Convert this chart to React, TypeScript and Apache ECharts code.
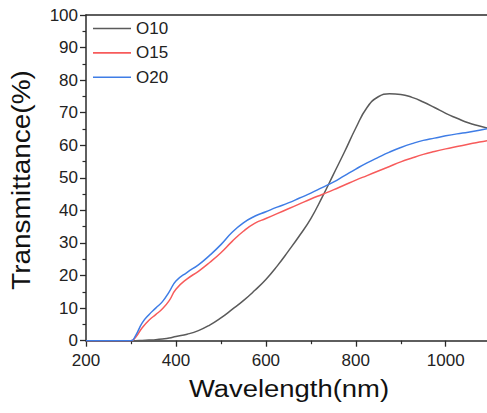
import React, { useEffect, useRef } from "react";
import * as echarts from "echarts";

const wavelength = [200, 250, 300, 310, 325, 340, 355, 370, 385, 400, 425, 450, 475, 500, 525, 550, 575, 600, 625, 650, 675, 700, 725, 750, 775, 800, 825, 850, 875, 900, 925, 950, 975, 1000, 1025, 1050, 1075, 1100];
const o10 = [0, 0, 0, 0, 0.1, 0.2, 0.3, 0.5, 0.8, 1.3, 2.0, 3.1, 4.8, 7.0, 9.6, 12.3, 15.4, 18.8, 22.9, 27.5, 32.3, 37.5, 44, 51, 58, 65.3, 71.6, 74.9, 75.8, 75.6, 74.7, 73.3, 71.6, 69.8, 68.3, 66.9, 65.9, 65.0];
const o15 = [0, 0, 0, 1, 4, 6.3, 8, 9.8, 12.3, 15.8, 19, 21.3, 24, 27, 30.5, 33.6, 36, 37.5, 39.0, 40.5, 42.0, 43.5, 44.9, 46.3, 47.8, 49.3, 50.7, 52.1, 53.5, 54.9, 56.1, 57.2, 58.1, 58.9, 59.6, 60.3, 61.0, 61.6];
const o20 = [0, 0, 0, 1.5, 5.5, 8, 10, 12, 15, 18.3, 21, 23.3, 26.2, 29.5, 33.3, 36.2, 38.2, 39.6, 41.0, 42.3, 43.8, 45.3, 47, 48.7, 50.7, 52.7, 54.6, 56.3, 57.9, 59.3, 60.5, 61.5, 62.2, 62.9, 63.5, 64.0, 64.6, 65.3];
const seriesNames = ["O10", "O15", "O20"];
const seriesColors = ["#5a5a5a", "#f75b5b", "#3f7de6"];
const xTitle = "Wavelength(nm)";
const yTitle = "Transmittance(%)";

const FONT = "'Liberation Sans', Arial, sans-serif";

export default function App() {
  const ref = useRef<HTMLDivElement>(null);
  useEffect(() => {
    if (!ref.current) return;
    const chart = echarts.init(ref.current, null, { renderer: "svg" });
    const values = [o10, o15, o20];
    const axisLine = { show: true, lineStyle: { color: "#2a2a2a", width: 1.5 } };
    chart.setOption({
      animation: false,
      backgroundColor: "#ffffff",
      grid: { left: 86, top: 15, width: 404.7, height: 325.7, outerBoundsMode: "none" },
      legend: {
        orient: "vertical",
        left: 93,
        top: 20,
        padding: 0,
        icon: "rect",
        itemWidth: 38,
        itemHeight: 1.6,
        itemGap: 7.4,
        textStyle: { fontFamily: FONT, fontSize: 17, color: "#222" },
        data: seriesNames,
      },
      xAxis: [
        {
          type: "value",
          min: 200,
          max: 1100,
          interval: 200,
          axisLine,
          axisTick: { show: true, inside: false, length: 6, lineStyle: { color: "#2a2a2a", width: 1.3 } },
          minorTick: { show: true, splitNumber: 2, length: 3.5, lineStyle: { color: "#2a2a2a", width: 1.2 } },
          splitLine: { show: false },
          axisLabel: { fontFamily: FONT, fontSize: 17, color: "#222", margin: 11, showMaxLabel: false, formatter: (v: number) => (v > 1050 ? "" : String(v)) },
        },
        {
          type: "value",
          position: "top",
          min: 200,
          max: 1100,
          axisLine,
          axisTick: { show: false },
          axisLabel: { show: false },
          splitLine: { show: false },
        },
      ],
      yAxis: {
        type: "value",
        min: 0,
        max: 100,
        interval: 10,
        axisLine,
        axisTick: { show: true, inside: false, length: 6, lineStyle: { color: "#2a2a2a", width: 1.3 } },
        minorTick: { show: true, splitNumber: 2, length: 3.5, lineStyle: { color: "#2a2a2a", width: 1.2 } },
        splitLine: { show: false },
        axisLabel: { fontFamily: FONT, fontSize: 17, color: "#222", margin: 8, formatter: (v: number) => String(v) },
      },
      graphic: [
        {
          type: "text",
          x: 289,
          y: 401.5,
          scaleX: 1.12,
          style: { text: xTitle, fontFamily: FONT, fontSize: 24.5, fill: "#111", align: "center", verticalAlign: "bottom" },
        },
        {
          type: "text",
          x: 34,
          y: 180,
          rotation: Math.PI / 2,
          scaleX: 1.12,
          style: { text: yTitle, fontFamily: FONT, fontSize: 25, fill: "#111", align: "center", verticalAlign: "bottom" },
        },
      ],
      series: seriesNames.map((name, i) => ({
        name,
        type: "line",
        symbol: "none",
        smooth: 0.5,
        clip: true,
        color: seriesColors[i],
        lineStyle: { color: seriesColors[i], width: 1.5 },
        data: wavelength.map((w, j) => [w, values[i][j]]),
      })),
    });
    return () => chart.dispose();
  }, []);
  return <div ref={ref} style={{ position: "fixed", left: 0, top: 0, width: 487, height: 413 }} />;
}
